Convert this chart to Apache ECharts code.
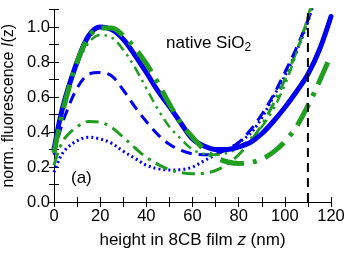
<!DOCTYPE html>
<html>
<head>
<meta charset="utf-8">
<script src="https://cdn.jsdelivr.net/npm/echarts@6/dist/echarts.min.js"></script>
<style>html,body{margin:0;padding:0;background:#fff;}#c{width:347px;height:255px;}</style>
</head>
<body>
<div id="c"></div>
<script>
// ---- data ----
const zA = [0,2.5,5,10,15,20,25,30,35,40,45,50,55,60,65,70,75,80,85,90,95,100,105,110,115,120];
const blueSolid  = [0.30,0.47,0.60,0.80,0.95,1.00,0.985,0.93,0.84,0.74,0.635,0.545,0.45,0.36,0.32,0.30,0.30,0.315,0.34,0.39,0.46,0.54,0.63,0.73,0.87,1.06];
const greenThick = [0.28,0.44,0.58,0.80,0.94,0.995,0.995,0.95,0.88,0.79,0.68,0.56,0.45,0.37,0.30,0.255,0.23,0.22,0.225,0.245,0.285,0.345,0.43,0.55,0.69,0.84];
const zB = [0,2.5,5,10,15,20,25,30,35,40,45,50,55,60,65,70,75,80,85,90,95,100,105,110,115];
const greenDDot  = [0.28,0.45,0.57,0.78,0.91,0.955,0.94,0.87,0.77,0.65,0.53,0.43,0.36,0.30,0.275,0.27,0.28,0.31,0.36,0.43,0.53,0.67,0.85,1.06,1.30];
const blueDash   = [0.27,0.40,0.50,0.65,0.73,0.74,0.72,0.64,0.545,0.46,0.385,0.33,0.295,0.275,0.27,0.275,0.30,0.34,0.41,0.50,0.61,0.74,0.88,1.04,1.25];
const greenDash  = [0.21,0.31,0.37,0.43,0.46,0.455,0.425,0.37,0.31,0.255,0.215,0.185,0.168,0.162,0.165,0.18,0.215,0.27,0.345,0.44,0.56,0.70,0.86,1.05,1.27];
const blueDot    = [0.17,0.25,0.30,0.35,0.37,0.36,0.335,0.29,0.25,0.21,0.19,0.183,0.185,0.20,0.235,0.27,0.30,0.34,0.39,0.48,0.60,0.72,0.86,1.03,1.25];
const filmTop = [[110,0],[110,1.1]];
const xTickLabels = [0,20,40,60,80,100,120];
const yTickLabels = [0,0.2,0.4,0.6,0.8,1.0];

const BLUE = '#0000f0', GREEN = '#1f9e1f';
const FONT = 'Liberation Sans';
const pairs = (xs, ys) => xs.map((x,i)=>[x, ys[i]]);

function ln(name, xs, ys, color, width, dash, z){
  return {name, type:'line', data:pairs(xs,ys), smooth:0.35, symbol:'none', z:z,
    lineStyle:{color, width, type:dash, cap:dash==='solid'?'round':'butt'}, clip:true};
}

const chart = echarts.init(document.getElementById('c'), null, {renderer:'canvas'});
const axLine = {show:true, lineStyle:{color:'#000', width:1}};
chart.setOption({
  animation:false,
  grid:{left:54, right:16, top:9.5, bottom:53, containLabel:false, outerBoundsMode:'none'},
  xAxis:[{
    type:'value', min:0, max:120, interval:10, position:'bottom',
    axisLine:axLine, splitLine:{show:false},
    axisTick:{show:true, inside:true, length:5, lineStyle:{color:'#000'}},
    axisLabel:{margin:6, color:'#000', fontSize:16.5, fontFamily:FONT,
      formatter:v => xTickLabels.includes(v) ? String(v) : ''},
    name:'height in 8CB film {i|z} (nm)', nameLocation:'middle', nameGap:30,
    nameTextStyle:{color:'#000', fontSize:17, fontFamily:FONT,
      rich:{i:{fontStyle:'italic', fontSize:17, fontFamily:FONT, color:'#000'}}}
  },{
    type:'value', min:0, max:120, interval:10, position:'top',
    axisLine:axLine, splitLine:{show:false},
    axisTick:{show:true, inside:true, length:5, lineStyle:{color:'#000'}},
    axisLabel:{show:false}
  }],
  yAxis:[{
    type:'value', min:0, max:1.1, interval:0.1, position:'left',
    axisLine:axLine, splitLine:{show:false},
    axisTick:{show:true, inside:true, length:5, lineStyle:{color:'#000'}},
    axisLabel:{margin:4, color:'#000', fontSize:16.5, fontFamily:FONT,
      formatter:v => { const r = Math.round(v*10)/10; return yTickLabels.some(t=>Math.abs(t-r)<1e-6) ? r.toFixed(1) : ''; }},
    name:'norm. fluorescence {i|I}(z)', nameLocation:'middle', nameGap:32, nameRotate:90,
    nameTextStyle:{color:'#000', fontSize:16, fontFamily:FONT,
      rich:{i:{fontStyle:'italic', fontSize:16, fontFamily:FONT, color:'#000'}}}
  },{
    type:'value', min:0, max:1.1, interval:0.1, position:'right',
    axisLine:axLine, splitLine:{show:false},
    axisTick:{show:true, inside:true, length:5, lineStyle:{color:'#000'}},
    axisLabel:{show:false}
  }],
  series:[
    ln('blueDot', zB, blueDot, BLUE, 3, [2,3], 2),
    ln('greenDash', zB, greenDash, GREEN, 3, [13,6,3,6], 2),
    ln('blueDash', zB, blueDash, BLUE, 3, [11,7], 2),
    ln('greenDDot', zB, greenDDot, GREEN, 2.5, [10,5,2.5,5,2.5,5], 3),
    ln('blueSolid', zA, blueSolid, BLUE, 5, 'solid', 3),
    ln('greenThick', zA, greenThick, GREEN, 5, [24,9,4,9], 4),
    {name:'filmTop', type:'line', data:filmTop, symbol:'none', z:5,
     lineStyle:{color:'#000', width:2, type:[9,6]}}
  ],
  graphic:[
    {type:'text', left:166, top:35, style:{text:'native SiO{s|2}', fill:'#000',
      font:'17px "Liberation Sans"',
      rich:{s:{fontSize:12, fontFamily:FONT, fill:'#000', padding:[9,0,0,0]}}}},
    {type:'text', left:71, top:170, style:{text:'(a)', fill:'#000', font:'17px "Liberation Sans"'}}
  ]
});
</script>
</body>
</html>
